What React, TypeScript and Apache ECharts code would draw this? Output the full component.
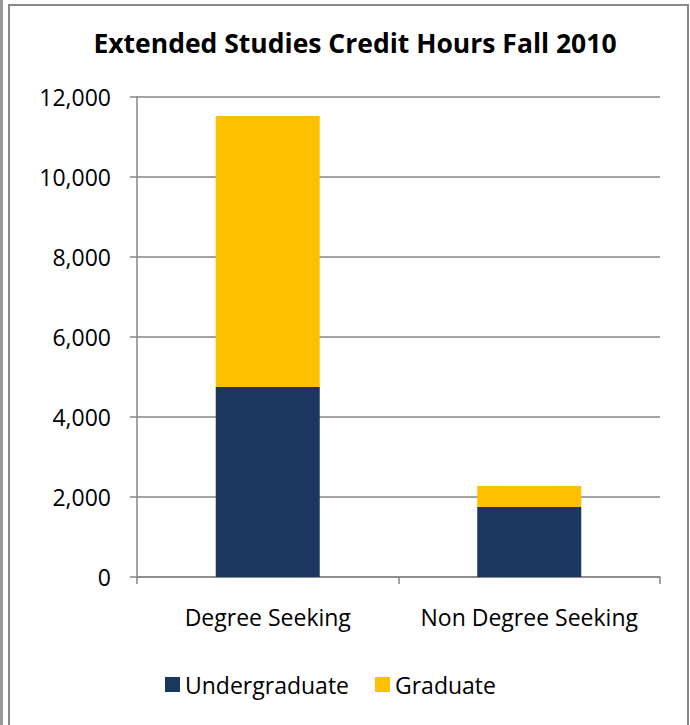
import React, { useEffect, useRef } from "react";
import * as echarts from "echarts";

const categories = ["Degree Seeking", "Non Degree Seeking"];
const undergraduate = [4750, 1750];
const graduate = [6775, 525];
const seriesNames = ["Undergraduate", "Graduate"];
const titleText = "Extended Studies Credit Hours Fall 2010";

const FONT = "'Open Sans', sans-serif";

export default function App() {
  const ref = useRef<HTMLDivElement>(null);
  useEffect(() => {
    const chart = echarts.init(ref.current!, null, { renderer: "svg" });
    chart.setOption({
      animation: false,
      backgroundColor: "#ffffff",
      title: {
        text: titleText,
        left: 350,
        textAlign: "center",
        top: 24,
        textStyle: { fontFamily: FONT, fontWeight: "bold", fontSize: 26.5, color: "#000" },
      },
      legend: {
        bottom: 24,
        left: 160,
        itemWidth: 15,
        itemHeight: 15,
        itemGap: 26,
        icon: "rect",
        textStyle: { fontFamily: FONT, fontSize: 23, color: "#000" },
        data: seriesNames,
      },
      grid: { left: 137, right: 30, top: 97, bottom: 148 },
      xAxis: {
        type: "category",
        data: categories,
        axisLine: { lineStyle: { color: "#868686", width: 1.5 } },
        axisTick: { show: true, length: 7, lineStyle: { color: "#868686", width: 1.5 } },
        axisLabel: { fontFamily: FONT, fontSize: 23, color: "#000", margin: 28, interval: 0 },
      },
      yAxis: {
        type: "value",
        min: 0,
        max: 12000,
        interval: 2000,
        axisLine: { show: true, lineStyle: { color: "#868686", width: 1.5 } },
        axisTick: { show: true, length: 7, lineStyle: { color: "#868686", width: 1.5 } },
        splitLine: { lineStyle: { color: "#868686", width: 1.5 } },
        axisLabel: {
          fontFamily: FONT,
          fontSize: 23,
          color: "#000",
          margin: 26,
          formatter: (v: number) => v.toLocaleString("en-US"),
        },
      },
      series: [
        {
          name: seriesNames[0],
          type: "bar",
          stack: "total",
          data: undergraduate,
          barWidth: 104,
          itemStyle: { color: "#1A375E" },
        },
        {
          name: seriesNames[1],
          type: "bar",
          stack: "total",
          data: graduate,
          barWidth: 104,
          itemStyle: { color: "#FFC000" },
        },
      ],
      graphic: [
        { type: "rect", shape: { x: 0, y: 0, width: 3, height: 725 }, style: { fill: "#9a9a9a" } },
        {
          type: "rect",
          shape: { x: 9, y: 5, width: 679, height: 740 },
          style: { fill: "none", stroke: "#888888", lineWidth: 2 },
          silent: true,
        },
      ],
    });
    return () => chart.dispose();
  }, []);
  return (
    <div
      ref={ref}
      style={{ position: "fixed", left: 0, top: 0, width: 690, height: 725 }}
    />
  );
}
